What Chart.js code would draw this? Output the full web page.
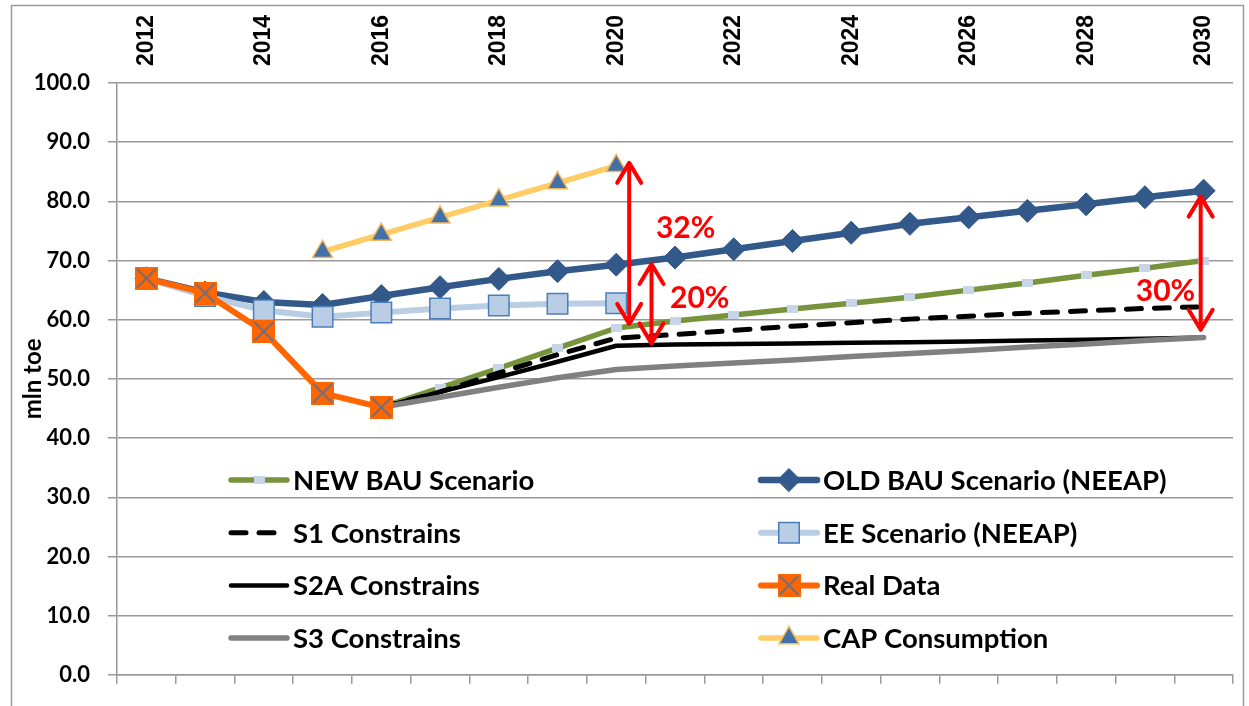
<!DOCTYPE html>
<html><head><meta charset="utf-8">
<script src="https://cdn.jsdelivr.net/npm/chart.js@4.4.1/dist/chart.umd.min.js"></script>
<style>html,body{margin:0;padding:0;background:#fff;}canvas{display:block}</style>
</head><body>
<canvas id="c" width="1249" height="706"></canvas>
<script>
const years = ['2012','2013','2014','2015','2016','2017','2018','2019','2020','2021','2022','2023','2024','2025','2026','2027','2028','2029','2030'];
const realData = [67.0, 64.5, 58.0, 47.6, 45.2, null, null, null, null, null, null, null, null, null, null, null, null, null, null];
const capConsumption = [null, null, null, 71.5, 74.4, 77.3, 80.2, 83.1, 86.0, null, null, null, null, null, null, null, null, null, null];
const eeScenario = [67.0, 64.0, 61.6, 60.5, 61.2, 61.9, 62.4, 62.7, 62.8, null, null, null, null, null, null, null, null, null, null];
const oldBau = [67.0, 64.6, 63.0, 62.5, 64.0, 65.5, 66.9, 68.2, 69.3, 70.5, 71.9, 73.3, 74.7, 76.2, 77.3, 78.4, 79.5, 80.7, 81.8];
const s3 = [null, null, null, null, 45.2, 46.9, 48.6, 50.2, 51.6, 52.2, 52.7, 53.2, 53.8, 54.3, 54.8, 55.4, 55.9, 56.5, 57.0];
const s2a = [null, null, null, null, 45.2, 47.8, 50.3, 52.9, 55.6, 55.8, 55.9, 56.0, 56.1, 56.2, 56.3, 56.5, 56.6, 56.8, 57.0];
const s1 = [null, null, null, null, 45.2, 47.8, 51.0, 54.1, 56.9, 57.5, 58.2, 58.9, 59.5, 60.1, 60.6, 61.1, 61.5, 61.9, 62.2];
const newBau = [null, null, null, null, 45.2, 48.5, 51.8, 55.2, 58.6, 59.8, 60.8, 61.8, 62.8, 63.8, 65.0, 66.2, 67.5, 68.7, 70.0];
const legendOrder = ['NEW BAU Scenario','OLD BAU Scenario (NEEAP)','S1 Constrains','EE Scenario (NEEAP)','S2A Constrains','Real Data','S3 Constrains','CAP Consumption'];
// gap annotations (category index, values)
const arrowLabels = ['32%','20%','30%'];
const arrowAt = [8.22, 8.6, 17.95];
const arrowTop = [86.5, 69.4, 80.8];
const arrowBottom = [59.3, 56.0, 58.3];
const labelAt = [9.18, 9.42, 17.35];
const labelValue = [75.5, 63.6, 64.8];

const LF = 'Lato, "Open Sans", sans-serif';
const TOP_FONT_SIZE = 23;

function makeRealMarker(){
  const c=document.createElement('canvas'); c.width=23; c.height=23;
  const g=c.getContext('2d');
  g.fillStyle='#FF6600'; g.fillRect(0,0,23,23);
  g.strokeStyle='#6F6F80'; g.lineWidth=2;
  g.beginPath(); g.moveTo(2,2); g.lineTo(21,21); g.moveTo(21,2); g.lineTo(2,21); g.stroke();
  return c;
}
function makeSmallRect(){
  const c=document.createElement('canvas'); c.width=11; c.height=8;
  const g=c.getContext('2d'); g.fillStyle='#C8D5E8'; g.fillRect(0,0,11,8);
  return c;
}
const realMarker = makeRealMarker();
const smallRect = makeSmallRect();

const frame = {
  id:'frame',
  beforeDraw(chart){
    const ctx=chart.ctx;
    ctx.save();
    ctx.fillStyle='#fff'; ctx.fillRect(0,0,chart.width,chart.height);
    ctx.strokeStyle='#9a9a9a'; ctx.lineWidth=1.5;
    ctx.strokeRect(11.5,5.5,1232,720);
    ctx.restore();
  }
};

const arrows = {
  id:'arrows',
  afterDatasetsDraw(chart){
    const ctx=chart.ctx, xs=chart.scales.x, ys=chart.scales.y;
    ctx.save();
    ctx.strokeStyle='#FF0000'; ctx.fillStyle='#FF0000';
    ctx.lineWidth=4; ctx.lineCap='round'; ctx.lineJoin='round';
    for(let i=0;i<arrowLabels.length;i++){
      const x=xs.getPixelForValue(arrowAt[i]);
      const y1=ys.getPixelForValue(arrowTop[i]);
      const y2=ys.getPixelForValue(arrowBottom[i]);
      ctx.beginPath();
      ctx.moveTo(x,y1); ctx.lineTo(x,y2);
      ctx.moveTo(x-12,y1+20); ctx.lineTo(x,y1); ctx.lineTo(x+12,y1+20);
      ctx.moveTo(x-12,y2-20); ctx.lineTo(x,y2); ctx.lineTo(x+12,y2-20);
      ctx.stroke();
      ctx.font='bold 30px '+LF; ctx.textAlign='center'; ctx.textBaseline='middle';
      ctx.fillText(arrowLabels[i], xs.getPixelForValue(labelAt[i]), ys.getPixelForValue(labelValue[i]));
    }
    ctx.restore();
  }
};

const customLegend = {
  id:'customLegend',
  afterDraw(chart){
    const ctx=chart.ctx;
    legendOrder.forEach((name,i)=>{
      const ds=chart.data.datasets.find(d=>d.label===name);
      const col=i%2, row=Math.floor(i/2);
      const x0 = col ? 758 : 228;
      const y = 480 + row*52.7;
      ctx.save();
      ctx.strokeStyle=ds.borderColor; ctx.lineWidth=ds.borderWidth; ctx.lineCap='round';
      ctx.setLineDash(ds.borderDash||[]);
      ctx.beginPath(); ctx.moveTo(x0+3,y); ctx.lineTo(x0+59,y); ctx.stroke();
      ctx.setLineDash([]);
      if(ds.pointRadius>0){
        ctx.fillStyle=ds.pointBackgroundColor; ctx.strokeStyle=ds.pointBorderColor;
        ctx.lineWidth=ds.pointBorderWidth||0;
        Chart.helpers.drawPoint(ctx,{pointStyle:ds.pointStyle,radius:ds.pointRadius,rotation:0,borderWidth:ds.pointBorderWidth||0},x0+31,y);
      }
      ctx.fillStyle='#000'; ctx.font='bold 27.5px '+LF; ctx.textAlign='left'; ctx.textBaseline='middle';
      ctx.fillText(name, x0+65, y+1);
      ctx.restore();
    });
  }
};

new Chart(document.getElementById('c'), {
  type:'line',
  data:{
    labels: years,
    datasets:[
      {label:'Real Data', data:realData, borderColor:'#FF6600', borderWidth:6, pointStyle:realMarker, pointRadius:11, pointBackgroundColor:'#FF6600', pointBorderColor:'#FF6600', pointBorderWidth:0},
      {label:'CAP Consumption', data:capConsumption, borderColor:'#FFCC66', borderWidth:5.5, pointStyle:'triangle', pointRadius:11.5, pointBackgroundColor:'#4270A8', pointBorderColor:'#F5B85A', pointBorderWidth:1.5},
      {label:'EE Scenario (NEEAP)', data:eeScenario, borderColor:'#B9CDE5', borderWidth:6, pointStyle:'rect', pointRadius:14.5, pointBackgroundColor:'#B9CDE5', pointBorderColor:'#4A7EBB', pointBorderWidth:1.5},
      {label:'OLD BAU Scenario (NEEAP)', data:oldBau, borderColor:'#33598A', borderWidth:6.5, pointStyle:'rectRot', pointRadius:11.5, pointBackgroundColor:'#33598A', pointBorderColor:'#33598A', pointBorderWidth:1},
      {label:'S3 Constrains', data:s3, borderColor:'#808080', borderWidth:5.5, pointRadius:0, borderCapStyle:'round'},
      {label:'S2A Constrains', data:s2a, borderColor:'#000000', borderWidth:4.5, pointRadius:0, borderCapStyle:'round'},
      {label:'S1 Constrains', data:s1, borderColor:'#000000', borderWidth:5, borderDash:[15,13], borderCapStyle:'round', pointRadius:0},
      {label:'NEW BAU Scenario', data:newBau, borderColor:'#77933C', borderWidth:5.5, pointStyle:smallRect, pointRadius:5, pointBackgroundColor:'#C8D5E8', pointBorderColor:'#C8D5E8', pointBorderWidth:0}
    ]
  },
  options:{
    responsive:false, animation:false, devicePixelRatio:1,
    layout:{padding:{left:0,right:15,top:0,bottom:0}},
    plugins:{legend:{display:false}, tooltip:{enabled:false}},
    elements:{line:{tension:0, borderJoinStyle:'round'}, point:{hoverRadius:0}},
    scales:{
      x:{
        type:'category', position:'bottom', offset:true, fullSize:false,
        grid:{display:true, drawOnChartArea:false, drawTicks:true, tickLength:9, color:'#999', lineWidth:1.5, offset:true},
        border:{display:true, color:'#999', width:1.5},
        ticks:{callback:()=> '', padding:0, autoSkip:false, maxRotation:0},
        afterFit(s){ s.height = 23; }
      },
      xTop:{
        type:'category', position:'top', offset:true, fullSize:false,
        grid:{display:false, drawTicks:false},
        border:{display:false},
        ticks:{autoSkip:false, minRotation:90, maxRotation:90, padding:17, color:'#000',
          labelOffset: TOP_FONT_SIZE*1.2,
          font:{family:'"Liberation Sans", Arial, sans-serif', weight:'bold', size:TOP_FONT_SIZE},
          callback:(v,i)=> i%2===0 ? years[i] : ''},
        afterFit(s){ s.height = 83; }
      },
      y:{
        min:0, max:100,
        ticks:{stepSize:10, padding:18, color:'#000', font:{family:LF, weight:'bold', size:22}, callback:(v)=>v.toFixed(1)},
        grid:{color:'#999', lineWidth:1.5, tickLength:9},
        border:{display:true, color:'#999', width:1.5},
        title:{display:true, text:'mln toe', color:'#000', font:{family:LF, weight:'bold', size:24}, padding:{top:19,bottom:0}},
        afterFit(s){ s.width = 117; }
      }
    }
  },
  plugins:[frame, arrows, customLegend]
});
</script>
</body></html>
